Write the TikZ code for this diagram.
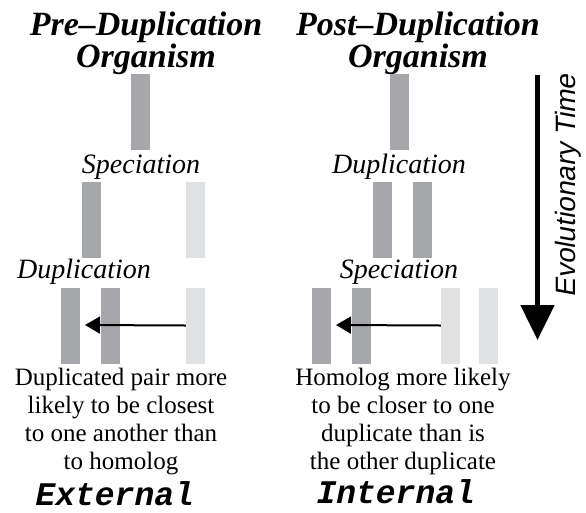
\documentclass[tikz,border=0pt]{standalone}
\usepackage{fontspec}
\setmainfont{Liberation Serif}
\newfontfamily\timefont{Liberation Sans}[FakeSlant=0.18]
\newfontfamily\kindfont{Liberation Mono}[FakeSlant=0.2]
\usepackage{tikz}
\usepackage{xcolor}
\usetikzlibrary{arrows.meta, positioning}
\definecolor{GeneDark}{HTML}{A6A7AA}
\definecolor{GeneLight}{HTML}{E0E1E3}

\begin{document}
\begin{tikzpicture}[x=1pt, y=-1pt, node distance=21pt, on grid,
    gene/.style={rectangle, inner sep=0pt, minimum width=19pt, minimum height=76pt, fill=GeneDark},
    homolog/.style={gene, fill=GeneLight},
    event/.style={anchor=base, inner sep=0pt, font=\fontsize{28}{30}\selectfont\itshape},
    heading/.style={align=center, inner sep=0pt, font=\fontsize{34}{26}\selectfont\bfseries\itshape},
    verdict/.style={align=center, inner sep=0pt, font=\fontsize{25}{28}\selectfont},
    kind/.style={anchor=base, inner sep=0pt, font=\fontsize{33}{33}\kindfont\bfseries},
    closest/.style={-{Triangle[length=15pt, width=17pt]}, line width=2pt}]
    \useasboundingbox (0,0) rectangle (586,512);

    \node[heading, anchor=north] (PreT) at (146,12) {Pre\textendash Duplication\\Organism};
    \node[heading, anchor=north] (PostT) at (418,12) {Post\textendash Duplication\\Organism};

    \node[gene] (P0) at (140.5,112) {};
    \node[event] (PreS) at (141,173) {Speciation};
    \node[gene] (P1) at (91.5,220) {};
    \node[homolog] (PH1) at (195.5,220) {};
    \node[event] (PreD) at (84,278) {Duplication};
    \node[gene] (P2a) at (70.5,325.5) {};
    \node[gene, right=40pt of P2a] (P2b) {};
    \node[homolog] (PH2) at (195.5,325.5) {};
    \coordinate (PreTip) at (85,325);
    \draw[closest] (PH2.west) -- (PreTip);

    \node[gene] (Q0) at (399.5,112) {};
    \node[event] (PostD) at (399,173) {Duplication};
    \node[gene] (Q1a) at (382.5,220) {};
    \node[gene, right=40pt of Q1a] (Q1b) {};
    \node[event] (PostS) at (399,278) {Speciation};
    \node[gene] (Q2a) at (321.5,325.5) {};
    \node[gene, right=40pt of Q2a] (Q2b) {};
    \node[homolog] (QH2a) at (450.5,325.5) {};
    \node[homolog, right=38pt of QH2a] (QH2b) {};
    \coordinate (PostTip) at (336,325);
    \draw[closest] (QH2a.west) -- (PostTip);

    \node[verdict, anchor=north] (PreV) at (121,368) {Duplicated pair more\\likely to be closest\\to one another than\\to homolog};
    \node[verdict, anchor=north] (PostV) at (403,368) {Homolog more likely\\to be closer to one\\duplicate than is\\the other duplicate};
    \node[kind] (Ext) at (113,505) {External};
    \node[kind] (Int) at (394,503) {Internal};

    \coordinate (TimeTop) at (537.5,75);
    \coordinate (TimeTip) at (537.5,340);
    \draw[-{Triangle[length=35pt, width=33pt]}, line width=5pt] (TimeTop) -- (TimeTip);
    \node[rotate=90, anchor=base, inner sep=0pt, font=\fontsize{28}{30}\timefont] (Time) at (575,186) {Evolutionary Time};
\end{tikzpicture}
\end{document}
